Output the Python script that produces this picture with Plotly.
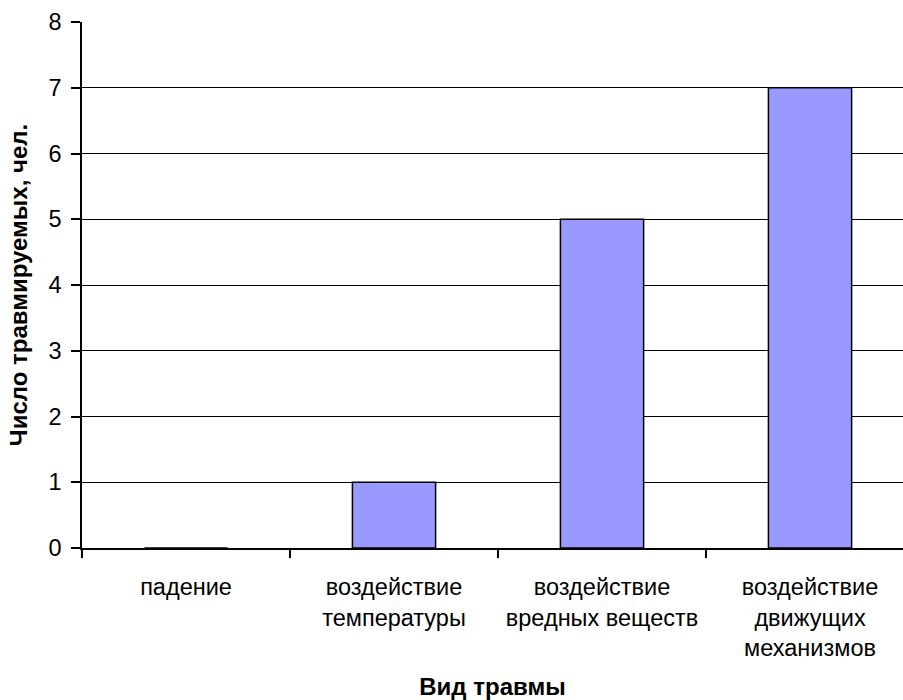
import plotly.graph_objects as go

categories = ["падение", "воздействие<br>температуры", "воздействие<br>вредных веществ",
              "воздействие<br>движущих<br>механизмов"]
values = [0, 1, 5, 7]
y_ticks = [0, 1, 2, 3, 4, 5, 6, 7, 8]

FONT = "Liberation Sans, Arial, sans-serif"

fig = go.Figure()
fig.add_trace(go.Bar(
    x=categories, y=values, width=0.4,
    marker=dict(color="#9999FF", line=dict(color="black", width=1.5)),
))

fig.update_layout(
    width=903, height=700,
    margin=dict(l=82, r=0, t=22, b=152),
    paper_bgcolor="white", plot_bgcolor="white",
    font=dict(family=FONT, size=23.5, color="black"),
    showlegend=False,
)
fig.update_xaxes(
    type="category",
    range=[-0.5, 3.447],
    tickson="boundaries",
    ticks="outside", ticklen=8, tickcolor="black", tickwidth=1.5,
    showline=True, linecolor="black", linewidth=1.5,
    showgrid=False, layer="above traces",
    ticklabelstandoff=17,
    title=dict(text="<b>Вид травмы</b>", font=dict(size=24), standoff=21),
)
fig.update_yaxes(
    range=[0, 8],
    tickvals=y_ticks,
    ticks="outside", ticklen=9, tickcolor="black", tickwidth=1.5,
    showline=True, linecolor="black", linewidth=1.5,
    showgrid=True, gridcolor="black", gridwidth=1.2,
    zeroline=False,
    ticklabelstandoff=5,
    title=dict(text="<b>Число травмируемых, чел.</b>", font=dict(size=24), standoff=14),
)

fig.write_html("out.html")
